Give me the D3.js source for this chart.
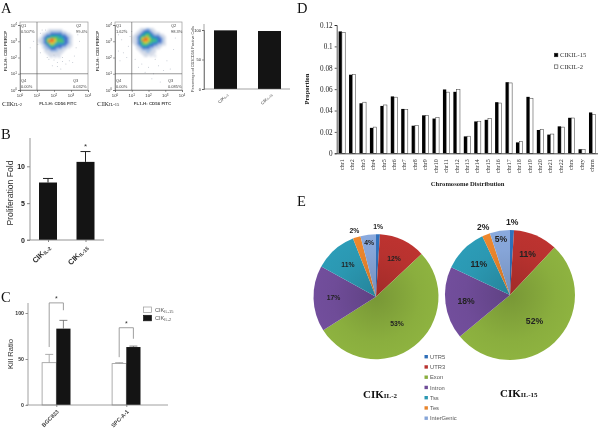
<!DOCTYPE html>
<html><head><meta charset="utf-8">
<script src="https://cdn.jsdelivr.net/npm/d3@7"></script>
<style>html,body{margin:0;padding:0;background:#fff}svg{display:block;filter:blur(0.4px)}text{font-family:"Liberation Sans",Arial,sans-serif}.serif{font-family:"Liberation Serif",serif}</style>
</head><body><svg id="c" width="600" height="430"></svg>
<script>
// Panel A flow plots: density rows (0 none .. 7 hottest)
const densityA1=["00000111111100000","00001122222211000","00112233333322110","00123344444433211","01234455554443321","11235677655543321","11235777655553321","01234566544443321","00123455443333211","00122344333322110","00012233322211000","00011122221110000","00001111111100000","00000111111000000","00000010101000000"];
const densityA2=["00001112211000000","00011233321100000","00112344432111000","01123445543222110","11234556544333211","11235677654443321","11235777655543321","11234566554443321","01234555443332211","00123444333221100","00112333322111000","00011222221100000","00001112211100000","00000111111000000","00000011010100000"];
const outliersA1=[[1.5,3.7],[1.2,3.5],[1.05,2.8],[1.2,2.3],[1.7,1.9],[2.0,1.85],[2.2,1.7],[2.5,1.75],[2.7,1.6],[2.9,1.8],[3.1,1.7],[1.9,1.5],[2.2,1.45],[1.6,2.0],[3.3,2.6],[3.5,3.0],[3.4,3.4],[1.3,3.7],[2.5,2.0],[2.0,2.15],[0.8,3.0],[0.6,2.6],[3.2,2.1],[2.4,1.3]];
const outliersA2=[[0.2,3.4],[0.4,3.1],[0.6,3.7],[0.8,2.7],[0.5,2.3],[0.3,1.8],[0.7,2.0],[1.2,1.9],[1.6,1.6],[2.0,1.4],[2.3,1.0],[2.6,1.5],[2.9,1.2],[3.1,1.8],[3.3,1.3],[2.2,0.7],[2.7,0.5],[1.8,1.1],[3.5,2.5],[3.6,3.2],[3.4,3.6],[1.0,3.6],[1.4,1.4],[0.9,3.3],[0.2,2.4],[2.4,1.9]];
const flowTicks=[0,1,2,3,4];
const flowLabelsA1=[["Q1","0.507%"],["Q2","99.4%"],["Q4","0.00%"],["Q3","0.032%"]];
const flowLabelsA2=[["Q1","1.62%"],["Q2","98.3%"],["Q4","0.00%"],["Q3","0.085%"]];
const heatColors=["none","#d5dbe8","#9dbde2","#3a6ccb","#1d9db8","#4ac05a","#d8d02c","#ee6a22"];
// Panel A bar
const catsA=["IL-2","IL-15"];const valsA=[99.4,98.3];const ticksA=[0,50,100];
// Panel B
const catsB=["IL-2","IL-15"];const valsB=[7.8,10.6];const errB=[8.35,12];const ticksB=[0,5,10];
// Panel C
const catsC=["BGC823","SPC-A-1"];const valsC15=[46,45];const errC15=[55,46];const valsC2=[83,63];const errC2=[92,64];const ticksC=[0,50,100];
// Panel D
const chroms=["chr1","chr2","chr3","chr4","chr5","chr6","chr7","chr8","chr9","chr10","chr11","chr12","chr13","chr14","chr15","chr16","chr17","chr18","chr19","chr20","chr21","chr22","chrx","chry","chrm"];
const propIL15=[.114,.0735,.0468,.0238,.0443,.0532,.0415,.0258,.0355,.0325,.0597,.0575,.0158,.0298,.0313,.0478,.0665,.0102,.0528,.0218,.0175,.0252,.0332,.0038,.0382];
const propIL2=[.113,.0737,.0478,.0245,.0452,.0525,.0412,.0258,.0352,.0335,.0572,.0595,.016,.03,.0327,.047,.0658,.011,.0515,.0225,.018,.0245,.033,.0035,.0365];
const ticksD=[0,.02,.04,.06,.08,.1,.12];
// Panel E
const regions=["UTR5","UTR3","Exon","Intron","Tss","Tes","InterGenic"];
const pieIL2=[1,12,53,17,11,2,4];const pieIL15=[1,11,52,18,11,2,5];
const regionColors=["#2f6fb8","#b8322f","#8aae3e","#6f4c98","#2b98b2","#e8842c","#86a5d8"];

const svg=d3.select("#c");
const defs=svg.append("defs");
defs.append("filter").attr("id","soft").attr("x","-10%").attr("y","-10%").attr("width","120%").attr("height","120%").append("feGaussianBlur").attr("stdDeviation",.8);
const BLK="#141414";
function letter(t,x,y){svg.append("text").attr("class","serif").attr("x",x).attr("y",y).attr("font-size",14.5).attr("fill","#111").text(t)}
letter("A",1,13);letter("B",1,139);letter("C",1,302);letter("D",297,13);letter("E",297,206);
function cik(sel,sub,big,small,dy){sel.append("tspan").text("CIK");sel.append("tspan").attr("font-size",small).attr("dy",dy).text(sub)}
function styleAxis(g,color,fs,w,fill){g.selectAll("path,line").attr("stroke",color).attr("stroke-width",w);g.selectAll("text").attr("font-size",fs).attr("fill",fill||"#222")}

// flow plot
function flow(x0,x1,y0,y1,gx,gy,grid,outs,labels,sub,nameX,titleOff){
 const g=svg.append("g");
 const x=d3.scaleLinear().domain([0,4]).range([x0,x1]);
 const y=d3.scaleLinear().domain([0,4]).range([y1,y0+3]);
 g.append("rect").attr("x",x0).attr("y",y0).attr("width",x1-x0).attr("height",y1-y0).attr("fill","none").attr("stroke","#999").attr("stroke-width",.7);
 const cell=.118;
 const startX=x.invert(gx),startY=y.invert(gy);
 const hg=g.append("g").attr("filter","url(#soft)");
 grid.forEach((row,r)=>row.split("").forEach((c,i)=>{const v=+c;if(!v)return;
  hg.append("rect").attr("x",x(startX+i*cell)).attr("y",y(startY-r*cell)).attr("width",x(cell)-x(0)+.3).attr("height",y(0)-y(cell)+.3).attr("fill",heatColors[v]);}));
 g.selectAll("circle").data(outs).join("circle").attr("cx",d=>x(d[0])).attr("cy",d=>y(d[1])).attr("r",.5).attr("fill","#bcc2cc");
 g.append("line").attr("x1",x(1)).attr("x2",x(1)).attr("y1",y0).attr("y2",y1).attr("stroke","#555").attr("stroke-width",.6);
 g.append("line").attr("x1",x0).attr("x2",x1).attr("y1",y(1)).attr("y2",y(1)).attr("stroke","#555").attr("stroke-width",.6);
 const ax=g.append("g").attr("transform",`translate(0,${y1})`).call(d3.axisBottom(x).tickValues(flowTicks).tickSize(2).tickPadding(1).tickFormat(()=>""));
 const ay=g.append("g").attr("transform",`translate(${x0},0)`).call(d3.axisLeft(y).tickValues(flowTicks).tickSize(2).tickPadding(1).tickFormat(()=>""));
 styleAxis(ax,"#444",4,.5);styleAxis(ay,"#444",4,.5);
 flowTicks.forEach(t=>{
  const a=g.append("text").attr("x",x(t)).attr("y",y1+7).attr("text-anchor","middle").attr("font-size",4.2).attr("fill","#333");a.append("tspan").text("10");a.append("tspan").attr("font-size",3).attr("dy",-1.5).text(t);
  const b=g.append("text").attr("x",x0-3).attr("y",y(t)+1.5).attr("text-anchor","end").attr("font-size",4.2).attr("fill","#333");b.append("tspan").text("10");b.append("tspan").attr("font-size",3).attr("dy",-1.5).text(t);
 });
 const pos=[[x0+1,y0+4],[x0+56,y0+4],[x0+1,y1-5],[x0+53,y1-5]];
 labels.forEach((l,i)=>{l.forEach((s,j)=>g.append("text").attr("x",pos[i][0]).attr("y",pos[i][1]+j*6+(i>1?-3:1)).attr("font-size",4).attr("fill","#444").text(s))});
 g.append("text").attr("x",(x0+x1)/2+4).attr("y",y1+15).attr("text-anchor","middle").attr("font-size",4.4).attr("font-weight","bold").attr("fill","#444").text("FL1-H: CD56 FITC");
 g.append("text").attr("transform",`translate(${x0-titleOff},${(y0+y1)/2-5}) rotate(-90)`).attr("text-anchor","middle").attr("font-size",4.4).attr("font-weight","bold").attr("fill","#444").text("FL3-H: CD3 PERCP");
 const t=g.append("text").attr("class","serif").attr("x",nameX).attr("y",y1+16).attr("font-size",7).attr("fill","#222");
 cik(t,sub,7,4.5,0);
}
flow(20,88,22,90,38,29,densityA1,outliersA1,flowLabelsA1,"IL-2",2,13);
flow(115,182,22,90,132,28,densityA2,outliersA2,flowLabelsA2,"IL-15",97,16);

// A bars
{const cx=d3.scalePoint().domain(catsA).range([225.5,269.5]);
 const y=d3.scaleLinear().domain([0,100]).range([89,30]);
 const g=svg.append("g");
 g.selectAll("rect").data(valsA).join("rect").attr("x",(d,i)=>cx(catsA[i])-11.5).attr("width",23).attr("y",d=>y(d)).attr("height",d=>y(0)-y(d)).attr("fill",BLK);
 const ay=g.append("g").attr("transform","translate(204,0)").call(d3.axisLeft(y).tickValues(ticksA).tickSize(2).tickPadding(1));
 styleAxis(ay,"#444",4,.6);
 g.append("line").attr("x1",204).attr("x2",290).attr("y1",y(0)).attr("y2",y(0)).attr("stroke","#666").attr("stroke-width",.6);
 g.append("line").attr("x1",204).attr("x2",204).attr("y1",24).attr("y2",89).attr("stroke","#666").attr("stroke-width",.6);
 g.append("text").attr("transform","translate(194,59) rotate(-90)").attr("text-anchor","middle").attr("font-size",3.8).attr("fill","#444").text("Percentage of CD3CD56 Positive Cells");
 catsA.forEach(c=>{const t=g.append("text").attr("transform",`translate(${cx(c)+3},${95}) rotate(-45)`).attr("text-anchor","end").attr("font-size",4.4).attr("fill","#333");cik(t,c,4.4,3,.5);});
}
// B
{const cx=d3.scalePoint().domain(catsB).range([48,85.5]);
 const y=d3.scaleLinear().domain([0,10]).range([240,166.3]);
 const g=svg.append("g");
 g.selectAll("rect").data(valsB).join("rect").attr("x",(d,i)=>cx(catsB[i])-9).attr("width",18).attr("y",d=>y(d)).attr("height",d=>y(0)-y(d)).attr("fill",BLK);
 catsB.forEach((c,i)=>{g.append("path").attr("d",`M${cx(c)},${y(valsB[i])}V${y(errB[i])}M${cx(c)-5},${y(errB[i])}H${cx(c)+5}`).attr("stroke","#222").attr("stroke-width",1).attr("fill","none");});
 const ay=g.append("g").attr("transform","translate(30,0)").call(d3.axisLeft(y).tickValues(ticksB).tickSize(3).tickPadding(2));
 styleAxis(ay,"#777",7,.9,"#222");ay.selectAll("text").attr("font-weight","bold");
 ay.select(".domain").remove();
 g.append("line").attr("x1",30).attr("x2",30).attr("y1",138).attr("y2",240).attr("stroke","#888").attr("stroke-width",.9);
 const ax=g.append("g").attr("transform","translate(0,240)").call(d3.axisBottom(cx).tickSize(2).tickFormat(()=>""));
 styleAxis(ax,"#777",7,.9);ax.select(".domain").remove();
 g.append("line").attr("x1",27).attr("x2",104).attr("y1",240).attr("y2",240).attr("stroke","#888").attr("stroke-width",.9);
 g.append("text").attr("transform","translate(13,193) rotate(-90)").attr("text-anchor","middle").attr("font-size",8.6).attr("fill","#333").text("Proliferation Fold");
 catsB.forEach(c=>{const t=g.append("text").attr("transform",`translate(${cx(c)+3},${248}) rotate(-45)`).attr("text-anchor","end").attr("font-size",7.6).attr("font-weight","bold").attr("fill","#333");cik(t,c,7.6,5,1);});
 g.append("text").attr("x",85.5).attr("y",149).attr("text-anchor","middle").attr("font-size",8).attr("fill","#333").text("*");
}
// C
{const cx=d3.scalePoint().domain(catsC).range([56.3,126.3]);
 const y=d3.scaleLinear().domain([0,100]).range([405,313]);
 const g=svg.append("g");
 const w=14.2;
 catsC.forEach((c,i)=>{
  const X=cx(c);
  g.append("rect").attr("x",X-w).attr("width",w).attr("y",y(valsC15[i])).attr("height",y(0)-y(valsC15[i])).attr("fill","#fff").attr("stroke","#999").attr("stroke-width",.8);
  g.append("path").attr("d",`M${X-w/2},${y(valsC15[i])}V${y(errC15[i])}M${X-w/2-4},${y(errC15[i])}H${X-w/2+4}`).attr("stroke","#999").attr("stroke-width",.8).attr("fill","none");
  g.append("rect").attr("x",X).attr("width",w).attr("y",y(valsC2[i])).attr("height",y(0)-y(valsC2[i])).attr("fill",BLK);
  g.append("path").attr("d",`M${X+w/2},${y(valsC2[i])}V${y(errC2[i])}M${X+w/2-4},${y(errC2[i])}H${X+w/2+4}`).attr("stroke","#666").attr("stroke-width",.8).attr("fill","none");
  const top=i==0?y(111):y(84),l=i==0?y(63):y(52),r=i==0?y(103):y(72);
  g.append("path").attr("d",`M${X-w/2},${l}V${top}H${X+w/2}V${r}`).attr("stroke","#888").attr("stroke-width",.8).attr("fill","none");
  g.append("text").attr("x",X).attr("y",top-1.5).attr("text-anchor","middle").attr("font-size",7).attr("fill","#333").text("*");
  g.append("text").attr("transform",`translate(${X+3},${412}) rotate(-45)`).attr("text-anchor","end").attr("font-size",5.6).attr("font-weight","bold").attr("fill","#444").text(c);
 });
 const ay=g.append("g").attr("transform","translate(28,0)").call(d3.axisLeft(y).tickValues(ticksC).tickSize(2.5).tickPadding(1.5));
 styleAxis(ay,"#777",5.2,.8,"#333");ay.selectAll("text").attr("font-weight","bold");ay.select(".domain").remove();
 g.append("line").attr("x1",28).attr("x2",28).attr("y1",303).attr("y2",405).attr("stroke","#888").attr("stroke-width",.8);
 g.append("line").attr("x1",26).attr("x2",168).attr("y1",405).attr("y2",405).attr("stroke","#888").attr("stroke-width",.8);
 const ax=g.append("g").attr("transform","translate(0,405)").call(d3.axisBottom(cx).tickSize(2).tickFormat(()=>""));
 styleAxis(ax,"#777",5,.8);ax.select(".domain").remove();
 g.append("text").attr("transform","translate(13,354) rotate(-90)").attr("text-anchor","middle").attr("font-size",7.6).attr("fill","#333").text("Kill Ratio");
 [["IL-15","#fff"],["IL-2",BLK]].forEach((l,i)=>{const yy=307+i*8.3;
  g.append("rect").attr("x",143.5).attr("y",yy).attr("width",8).attr("height",5.5).attr("fill",l[1]).attr("stroke",i?BLK:"#999").attr("stroke-width",.7);
  const t=g.append("text").attr("x",155).attr("y",yy+5).attr("font-size",5.6).attr("fill","#555");cik(t,l[0],5.6,4,.8);});
}
// D
{const x=d3.scaleBand().domain(chroms).range([336.7,597.5]);
 const y=d3.scaleLinear().domain([0,.12]).range([153.3,25]);
 const g=svg.append("g");const bw=3.3;
 chroms.forEach((c,i)=>{const cx=x(c)+x.bandwidth()/2;
  g.append("rect").attr("x",cx-bw).attr("width",bw).attr("y",y(propIL15[i])).attr("height",y(0)-y(propIL15[i])).attr("fill","#000");
  g.append("rect").attr("x",cx).attr("width",bw).attr("y",y(propIL2[i])).attr("height",y(0)-y(propIL2[i])).attr("fill","#fff").attr("stroke","#333").attr("stroke-width",.5);
 });
 const ay=g.append("g").attr("transform","translate(336.7,0)").call(d3.axisLeft(y).tickValues(ticksD).tickSize(2).tickPadding(2).tickFormat(d=>d===0?"0":String(+d.toFixed(2))));
 styleAxis(ay,"#111",7.2,.7,"#222");ay.selectAll("text").attr("class","serif");
 const ax=g.append("g").attr("transform","translate(0,153.3)").call(d3.axisBottom(x).tickSize(0).tickPadding(0));
 styleAxis(ax,"#111",6,.8,"#333");
 ax.selectAll("text").attr("class","serif").attr("transform","rotate(-90)").attr("text-anchor","end").attr("x",-6).attr("y",0).attr("dy","0.32em");
 g.append("text").attr("class","serif").attr("transform","translate(309,89) rotate(-90)").attr("text-anchor","middle").attr("font-size",6.6).attr("font-weight","bold").attr("fill","#222").text("Proportion");
 g.append("text").attr("class","serif").attr("x",467.7).attr("y",185.5).attr("text-anchor","middle").attr("font-size",6.6).attr("font-weight","bold").attr("fill","#222").text("Chromosome Distribution");
 [["CIKIL-15","#000"],["CIKIL-2","#fff"]].forEach((l,i)=>{const yy=55+i*11.7;
  g.append("rect").attr("x",554.3).attr("y",yy-1.8).attr("width",3.6).attr("height",3.6).attr("fill",l[1]).attr("stroke","#222").attr("stroke-width",.5);
  g.append("text").attr("class","serif").attr("x",560).attr("y",yy+2.3).attr("font-size",6.6).attr("fill","#333").text(l[0]);});
}
// E
function pie(values,cx,cy,R,fs,id,sub,tx,ty){
 const g=svg.append("g").attr("transform",`translate(${cx},${cy})`);
 const arcs=d3.pie().sort(null)(values);
 const arc=d3.arc().innerRadius(0).outerRadius(R);
 regionColors.forEach((c,i)=>{const gr=defs.append("radialGradient").attr("id",id+i).attr("gradientUnits","userSpaceOnUse").attr("cx",0).attr("cy",0).attr("r",R);
  gr.append("stop").attr("offset","0").attr("stop-color",d3.color(c).darker(.4));
  gr.append("stop").attr("offset","0.7").attr("stop-color",c);
  gr.append("stop").attr("offset","1").attr("stop-color",d3.color(c).brighter(.08));});
 g.selectAll("path").data(arcs).join("path").attr("d",arc).attr("fill",(d,i)=>`url(#${id}${i})`);
 const rf=v=>v>=50?.55:v>=10?.68:v>=3?.88:1.12;
 g.selectAll("text").data(arcs).join("text").each(function(d){
  const a=(d.startAngle+d.endAngle)/2,r=R*rf(d.data);
  d3.select(this).attr("x",Math.sin(a)*r).attr("y",-Math.cos(a)*r).attr("dy","0.35em").attr("text-anchor","middle").attr("font-size",fs).attr("font-weight","bold").attr("fill","#222").text(d.data+"%");
 });
 const t=svg.append("text").attr("class","serif").attr("x",tx).attr("y",ty).attr("font-size",11).attr("font-weight","bold").attr("fill","#111");
 cik(t,sub,11,7,0);
}
pie(pieIL2,376,296.7,62.5,6.8,"a","IL-2",363,398);
pie(pieIL15,510,295,65,8.6,"b","IL-15",500,397);
regions.forEach((r,i)=>{const yy=356.7+i*10.25;
 svg.append("rect").attr("x",424.5).attr("y",yy-1.7).attr("width",3.4).attr("height",3.4).attr("fill",regionColors[i]);
 svg.append("text").attr("x",430).attr("y",yy+2.1).attr("font-size",5.8).attr("fill","#555").text(r);});
</script></body></html>
